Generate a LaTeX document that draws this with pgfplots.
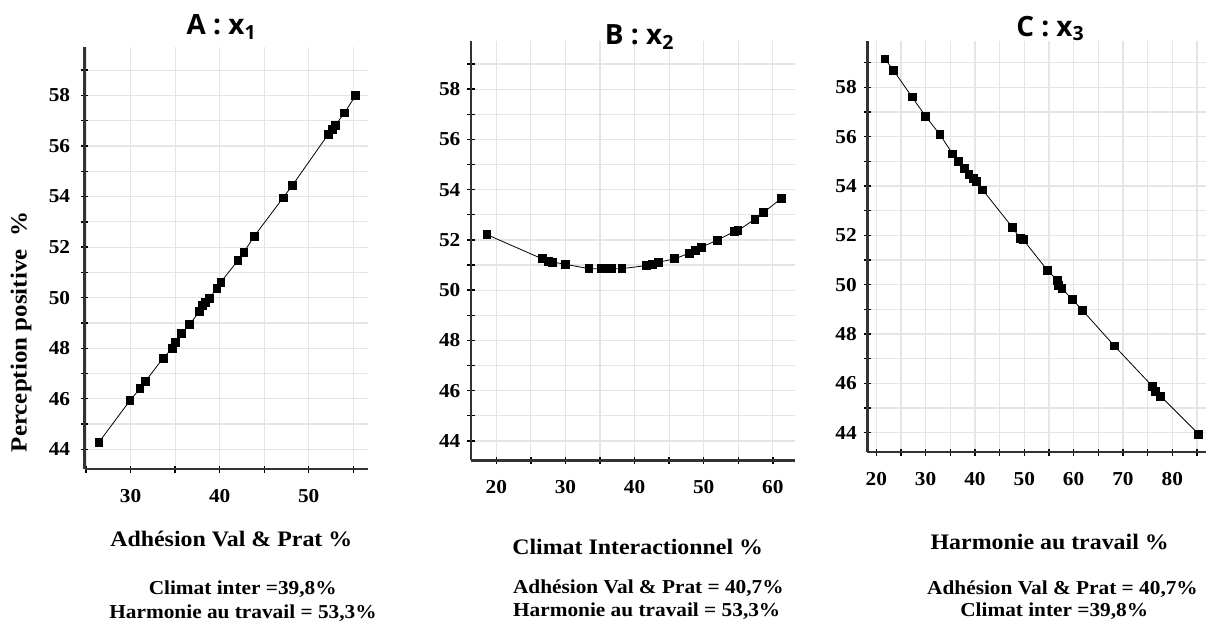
\documentclass[border=0pt]{standalone}
\usepackage{pgfplots}
\pgfplotsset{compat=1.18}
\usepackage{fontspec}
\setmainfont{Liberation Serif}[FakeStretch=1.08]
\newfontfamily\titlefont{Open Sans}

\pgfplotstableread{
x y
26.44 44.28
29.92 45.93
31.05 46.40
31.69 46.70
33.64 47.61
34.69 48.00
35.07 48.22
35.74 48.60
36.64 48.94
37.69 49.45
38.03 49.70
38.41 49.81
38.82 49.98
39.68 50.37
40.13 50.62
42.05 51.47
42.72 51.80
43.88 52.43
47.11 53.95
48.16 54.44
52.18 56.46
52.62 56.67
53.00 56.83
54.01 57.31
55.25 57.99
}\dataA

\pgfplotstableread{
x y
18.65 52.21
26.62 51.25
27.49 51.16
28.07 51.12
30.05 51.03
33.38 50.86
35.12 50.86
35.85 50.86
36.62 50.86
38.16 50.86
41.69 50.98
42.61 51.03
43.43 51.11
45.75 51.25
47.87 51.47
48.74 51.58
49.66 51.71
51.93 51.99
54.40 52.33
54.93 52.37
57.39 52.83
58.60 53.08
61.21 53.65
}\dataB

\pgfplotstableread{
x y
21.76 59.15
23.45 58.70
27.24 57.61
30.01 56.82
32.91 56.08
35.49 55.30
36.70 55.00
37.84 54.72
38.79 54.46
39.67 54.30
40.35 54.18
41.57 53.84
47.65 52.31
49.20 51.86
49.80 51.82
54.74 50.57
56.77 50.16
56.97 49.97
57.64 49.84
59.81 49.39
61.84 48.95
68.25 47.52
76.03 45.87
76.64 45.69
77.65 45.48
85.35 43.94
}\dataC

\pgfplotsset{
  panel/.style={
    scale only axis,
    axis x line*=bottom, axis y line*=left,
    axis line style={black!80, line width=1.2bp},
    tick align=center,
    major tick length=3.6bp, minor tick length=3.6bp,
    tick style={black, line width=0.7bp},
    minor tick style={black, line width=0.7bp},
    grid=both,
    major grid style={black!10, line width=0.6bp},
    minor grid style={black!10, line width=0.6bp},
    ymin=43.21, ymax=59.93,
    ytick={44,46,...,58}, minor ytick={43,45,...,59},
    /pgf/number format/assume math mode=true,
    ticklabel style={font=\fontsize{9.9}{11}\selectfont\bfseries},
    xticklabel style={yshift=-4.6bp},
    clip=false,
  },
  curve/.style={black, line width=0.4bp, mark=square*, mark size=1.95bp, mark options={solid, fill=black}},
}

\begin{document}
\begin{tikzpicture}
\useasboundingbox (0,0) rectangle (603bp,310.5bp);

% Panel A
\begin{axis}[panel, at={(42.35bp,75.85bp)}, anchor=south west,
  width=141.8bp, height=211.3bp,
  xmin=24.84, xmax=56.69,
  xtick={30,40,50}, minor xtick={25,35,45,55},
  yticklabel style={xshift=-2bp}]
\addplot[curve] table[x=x,y=y] {\dataA};
\end{axis}

% Panel B
\begin{axis}[panel, at={(235.5bp,80.25bp)}, anchor=south west,
  width=162bp, height=209.9bp,
  xmin=16.34, xmax=63.2, ymin=43.22,
  xtick={20,30,40,50,60}, minor xtick={25,35,45,55}]
\addplot[curve, smooth, tension=0.4] table[x=x,y=y] {\dataB};
\end{axis}

% Panel C
\begin{axis}[panel, at={(433.65bp,84.4bp)}, anchor=south west,
  width=169.35bp, height=205.75bp,
  xmin=18.18, xmax=86.83, ymax=59.89,
  xtick={20,30,...,80}, minor xtick={25,35,...,85}]
\addplot[curve] table[x=x,y=y] {\dataC};
\end{axis}

% Titles
\node[anchor=base, inner sep=0] at (110.85bp,293bp) {\titlefont\bfseries\fontsize{14}{16}\selectfont A : x\textsubscript{1}};
\node[anchor=base, inner sep=0] at (319.85bp,288bp) {\titlefont\bfseries\fontsize{14}{16}\selectfont B : x\textsubscript{2}};
\node[anchor=base, inner sep=0] at (525.25bp,292.15bp) {\titlefont\bfseries\fontsize{14}{16}\selectfont C : x\textsubscript{3}};

% Y label
\node[rotate=90, anchor=center, inner sep=0] at (10.5bp,144.5bp) {\bfseries\fontsize{11.6}{13}\selectfont Perception positive\ \ \%};

% X labels
\node[anchor=base, inner sep=0] at (115.65bp,37.5bp) {\bfseries\fontsize{11.1}{13}\selectfont Adhésion Val \& Prat \%};
\node[anchor=base, inner sep=0] at (318.85bp,33.35bp) {\bfseries\fontsize{11.1}{13}\selectfont Climat Interactionnel \%};
\node[anchor=base, inner sep=0] at (524.85bp,36bp) {\bfseries\fontsize{11.1}{13}\selectfont Harmonie au travail \%};

% Notes
\node[anchor=base, inner sep=0] at (121.35bp,13.35bp) {\bfseries\fontsize{9.9}{12}\selectfont Climat inter =39,8\%};
\node[anchor=base, inner sep=0] at (121.5bp,1.2bp) {\bfseries\fontsize{9.9}{12}\selectfont Harmonie au travail = 53,3\%};
\node[anchor=base west, inner sep=0] at (256.35bp,13.85bp) {\bfseries\fontsize{9.9}{12}\selectfont Adhésion Val \& Prat = 40,7\%};
\node[anchor=base west, inner sep=0] at (256.35bp,2.15bp) {\bfseries\fontsize{9.9}{12}\selectfont Harmonie au travail = 53,3\%};
\node[anchor=base, inner sep=0] at (531.25bp,13.35bp) {\bfseries\fontsize{9.9}{12}\selectfont Adhésion Val \& Prat = 40,7\%};
\node[anchor=base, inner sep=0] at (527.1bp,2.15bp) {\bfseries\fontsize{9.9}{12}\selectfont Climat inter =39,8\%};
\end{tikzpicture}
\end{document}
